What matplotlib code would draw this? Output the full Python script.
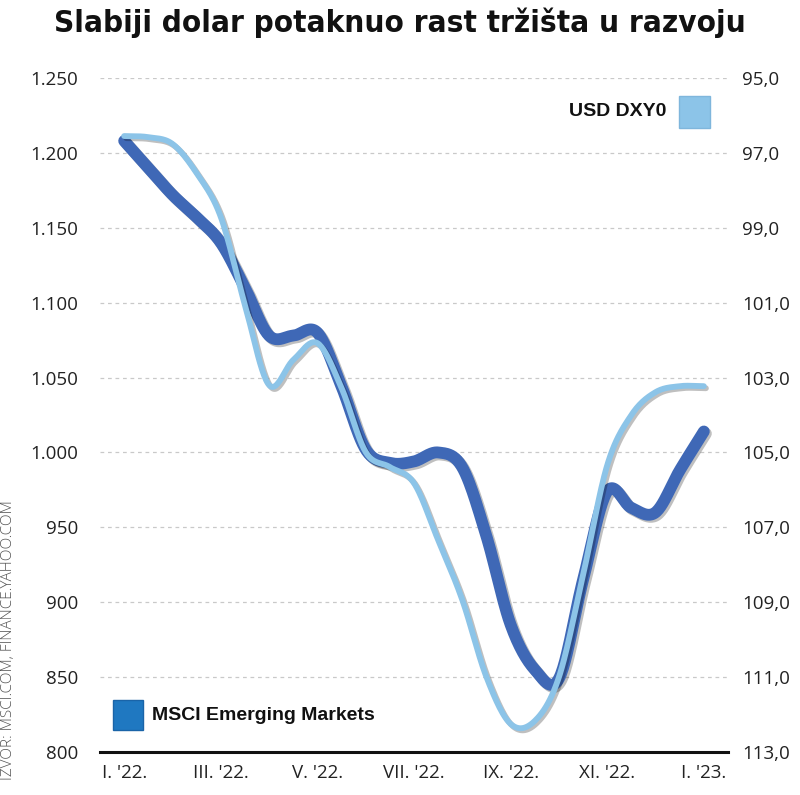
import numpy as np
import matplotlib
matplotlib.use("Agg")
import matplotlib.pyplot as plt
import matplotlib.patheffects as pe
from matplotlib.patches import Rectangle
from matplotlib.ticker import FixedLocator

# ---------------- data (half-month steps, Jan 2022 .. Jan 2023) ----------------
month_labels = ["I. '22.", "III. '22.", "V. '22.", "VII. '22.", "IX. '22.", "XI. '22.", "I. '23."]
msci = [1208, 1190, 1172, 1157, 1140, 1110, 1078, 1078, 1080, 1044, 1002, 993, 994,
        1000, 990, 944, 885, 855, 849, 915, 974, 963, 960, 988, 1014]
dxy = [96.55, 96.58, 96.76, 97.54, 98.71, 101.06, 103.20, 102.53, 102.08, 103.28,
       104.99, 105.39, 105.82, 107.34, 108.94, 111.00, 112.25, 112.17, 111.00,
       108.27, 105.34, 104.00, 103.39, 103.23, 103.23]
left_ticks = [800, 850, 900, 950, 1000, 1050, 1100, 1150, 1200, 1250]
right_ticks = [95, 97, 99, 101, 103, 105, 107, 109, 111, 113]

title = "Slabiji dolar potaknuo rast tržišta u razvoju"
source = "IZVOR: MSCI.COM, FINANCE.YAHOO.COM"

DARK = "#3f68b6"
LIGHT = "#8cc4e8"
MSCI_BOX = "#1f78c1"


def smooth(y, n=24):
    """Catmull-Rom rendering of a uniformly spaced series (display only)."""
    y = np.asarray(y, float)
    x = np.arange(len(y)) * 0.5
    yp = np.concatenate([[2 * y[0] - y[1]], y, [2 * y[-1] - y[-2]]])
    t = np.linspace(0, 1, n, endpoint=False)
    xs, ys = [], []
    for i in range(1, len(yp) - 2):
        p0, p1, p2, p3 = yp[i - 1:i + 3]
        seg = 0.5 * ((2 * p1) + (-p0 + p2) * t + (2 * p0 - 5 * p1 + 4 * p2 - p3) * t ** 2
                     + (-p0 + 3 * p1 - 3 * p2 + p3) * t ** 3)
        xs.append(x[i - 1] + 0.5 * t)
        ys.append(seg)
    xs.append([x[-1]])
    ys.append([y[-1]])
    return np.concatenate(xs), np.concatenate(ys)


fig = plt.figure(figsize=(8.0, 7.95), dpi=100)
ax = fig.add_axes([100 / 800, 1 - 752 / 795, 628 / 800, 674 / 795])
ax2 = ax.twinx()

tick_font = dict(family=["Open Sans", "DejaVu Sans"], size=13.5)

# left axis
ax.set_xlim(-0.5, 12.5)
ax.set_ylim(800, 1250)
ax.yaxis.set_major_locator(FixedLocator(left_ticks))
ax.set_yticklabels([f"{v:,}".replace(",", ".") for v in left_ticks], **tick_font, color="#222222")
ax.set_xticks(np.arange(len(month_labels)) * 2)
ax.set_xticklabels(month_labels, **tick_font, color="#222222")
ax.tick_params(axis="y", length=0, pad=16)
ax.tick_params(axis="x", length=0, pad=9)
ax.grid(axis="y", color="#c9c9c9", linestyle=(0, (3, 3)), linewidth=0.9)
for s in ["top", "right", "left"]:
    ax.spines[s].set_visible(False)
ax.spines["bottom"].set_linewidth(2.2)
ax.spines["bottom"].set_color("#111111")

# right axis (inverted)
ax2.set_ylim(113, 95)
ax2.yaxis.set_major_locator(FixedLocator(right_ticks))
ax2.set_yticklabels([f"{v:.1f}".replace(".", ",") for v in right_ticks], **tick_font, color="#222222")
ax2.tick_params(axis="y", length=0, pad=10)
for s in ["top", "right", "left", "bottom"]:
    ax2.spines[s].set_visible(False)

shadow = [pe.SimpleLineShadow(offset=(1.5, -1.5), shadow_color="k", alpha=0.25), pe.Normal()]

xm, ym = smooth(msci)
ax.plot(xm, ym, color=DARK, linewidth=8.5, solid_capstyle="round", solid_joinstyle="round",
        path_effects=shadow, zorder=3)
xd, yd = smooth(dxy)
ax2.plot(xd, yd, color=LIGHT, linewidth=4.2, solid_capstyle="round", solid_joinstyle="round",
         path_effects=shadow, zorder=4)

# title
fig.text(0.5, 1 - 23 / 795, title, ha="center", va="center", fontsize=22.5, fontweight="bold",
         family=["Liberation Sans Narrow", "DejaVu Sans"], fontstretch="condensed", color="#111111")

# legends
fig.add_artist(Rectangle((679 / 800, 1 - 128 / 795), 31 / 800, 32 / 795, transform=fig.transFigure,
                         facecolor=LIGHT, edgecolor="#7fb6dc", linewidth=1))
fig.text(666 / 800, 1 - 112 / 795, "USD DXY0", ha="right", va="center", fontsize=14,
         fontweight="bold", family=["Liberation Sans", "DejaVu Sans"], color="#111111")
fig.add_artist(Rectangle((113 / 800, 1 - 730 / 795), 30 / 800, 30 / 795, transform=fig.transFigure,
                         facecolor=MSCI_BOX, edgecolor="#1a64a8", linewidth=1))
fig.text(152 / 800, 1 - 715 / 795, "MSCI Emerging Markets", ha="left", va="center", fontsize=14,
         fontweight="bold", family=["Liberation Sans", "DejaVu Sans"], color="#111111")

# source
fig.text(9 / 800, 1 - 640 / 795, source, rotation=90, ha="center", va="center", fontsize=11,
         fontweight="light", family=["Open Sans", "DejaVu Sans"], color="#555555")

fig.savefig("out.png", dpi=100, facecolor="white")
